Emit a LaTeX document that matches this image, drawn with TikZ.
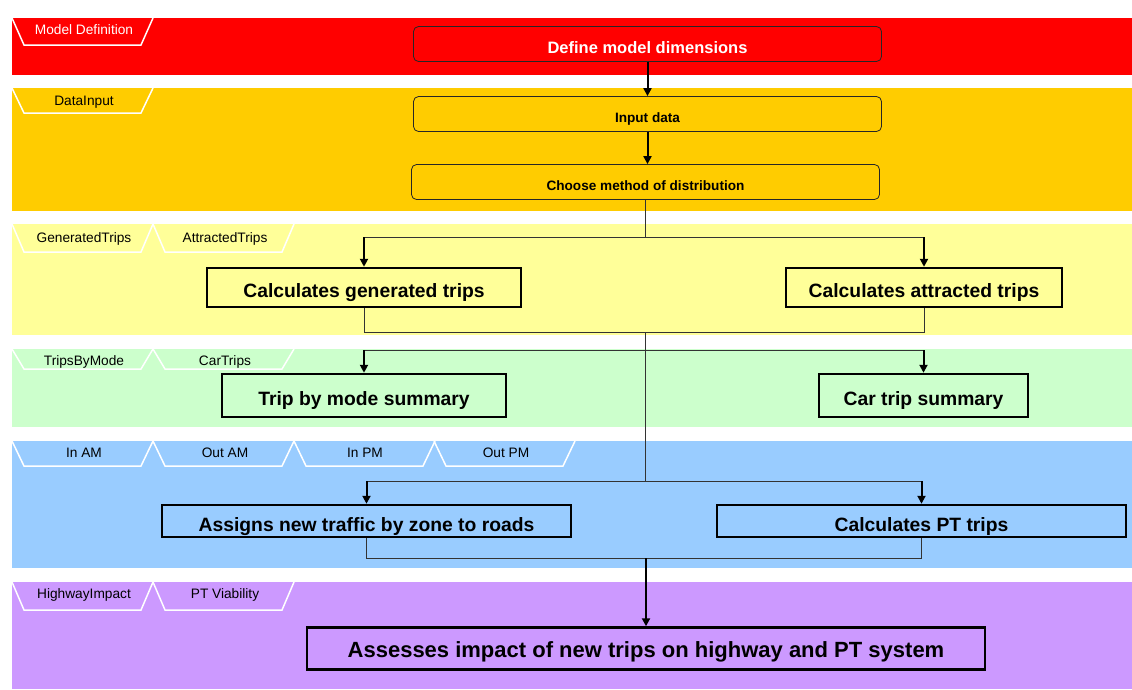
\documentclass[tikz,border=0pt]{standalone}
\usepackage{fontspec}
\setmainfont{Liberation Sans}
\usetikzlibrary{arrows.meta}
\definecolor{cRed}{HTML}{FF0000}
\definecolor{cOrange}{HTML}{FFCC00}
\definecolor{cYellow}{HTML}{FFFF99}
\definecolor{cGreen}{HTML}{CCFFCC}
\definecolor{cBlue}{HTML}{99CCFF}
\definecolor{cPurple}{HTML}{CC99FF}
\newcommand\tabtrap[3]{\draw[tabshape] (#1,#2) -- ++(12,#3) -- ++(117,0) -- ++(12,-#3);}
\begin{document}
\begin{tikzpicture}[x=1pt,y=-1pt,
  band/.style={fill=#1, draw=none},
  tabshape/.style={draw=white, line width=1.5pt, line join=miter},
  tablabel/.style={font=\fontsize{13.7}{16}\selectfont, text=black, inner sep=0pt, anchor=base},
  roundbox/.style={draw=black!85, line width=0.8pt, rounded corners=5pt, fill=#1, minimum width=468pt, minimum height=35pt, inner sep=0pt, text height=16pt, text depth=0pt, font=\fontsize{13.6}{16}\bfseries\selectfont},
  bigbox/.style={draw=black, line width=2.5pt, fill=#1, inner sep=0pt, text height=20.5pt, text depth=0pt, font=\fontsize{19.3}{23}\bfseries\selectfont},
  thinline/.style={draw=black!80, line width=1pt},
  stub/.style={draw=black, line width=2pt, -{Triangle[length=8pt,width=8pt]}},
]
\useasboundingbox (0,0) rectangle (1132,689);
% bands
\fill[band=cRed] (12,18) rectangle (1132,75);
\fill[band=cOrange] (12,88) rectangle (1132,211);
\fill[band=cYellow] (12,224) rectangle (1132,335);
\fill[band=cGreen] (12,349) rectangle (1132,427);
\fill[band=cBlue] (12,441) rectangle (1132,568);
\fill[band=cPurple] (12,582) rectangle (1132,689);
% tabs
\tabtrap{12}{18}{27}
\node[tablabel, text=white] (tMD) at (84,34.5) {Model Definition};
\tabtrap{12}{88}{25}
\node[tablabel] (tDI) at (84,105.5) {DataInput};
\tabtrap{12}{224}{28}
\tabtrap{153}{224}{28}
\node[tablabel] (tGT) at (84,242) {GeneratedTrips};
\node[tablabel] (tAT) at (225,242) {AttractedTrips};
\tabtrap{12}{349}{20}
\tabtrap{153}{349}{20}
\node[tablabel] (tTM) at (84,365.5) {TripsByMode};
\node[tablabel] (tCT) at (225,365.5) {CarTrips};
\tabtrap{12}{441}{25}
\tabtrap{153}{441}{25}
\tabtrap{294}{441}{25}
\tabtrap{434}{441}{25}
\node[tablabel] (tIA) at (84,457) {In AM};
\node[tablabel] (tOA) at (225,457) {Out AM};
\node[tablabel] (tIP) at (365,457) {In PM};
\node[tablabel] (tOP) at (506,457) {Out PM};
\tabtrap{12}{582}{28}
\tabtrap{153}{582}{28}
\node[tablabel] (tHI) at (84,598) {HighwayImpact};
\node[tablabel] (tPV) at (225,598) {PT Viability};
% nodes
\node[roundbox=cRed, text=white, text height=18.5pt, font=\fontsize{16.5}{19}\bfseries\selectfont] (define) at (647.5,44) {Define model dimensions};
\node[roundbox=cOrange] (input) at (647.5,114) {Input data};
\node[roundbox=cOrange] (choose) at (645.5,182) {Choose method of distribution};
\node[bigbox=cYellow, minimum width=314pt, minimum height=39pt] (gen) at (364,287.5) {Calculates generated trips};
\node[bigbox=cYellow, minimum width=276pt, minimum height=39pt] (attr) at (924,287.5) {Calculates attracted trips};
\node[bigbox=cGreen, minimum width=284pt, minimum height=43pt] (tmode) at (364,395.5) {Trip by mode summary};
\node[bigbox=cGreen, minimum width=209pt, minimum height=43pt] (car) at (923.5,395.5) {Car trip summary};
\node[bigbox=cBlue, minimum width=409pt, minimum height=32pt] (assign) at (366.5,521) {Assigns new traffic by zone to roads};
\node[bigbox=cBlue, minimum width=409pt, minimum height=32pt] (pt) at (921.5,521) {Calculates PT trips};
\node[bigbox=cPurple, minimum width=678pt, minimum height=42pt, text height=18pt, font=\fontsize{22}{26}\bfseries\selectfont] (assess) at (646,648.5) {Assesses impact of new trips on highway and PT system};
% junction coordinates
\coordinate (jy) at (0,237);
\coordinate (my) at (0,332);
\coordinate (jg) at (0,350);
\coordinate (jb) at (0,481);
\coordinate (mb) at (0,558);
% connectors
\draw[stub] (define) -- (input);
\draw[stub] (input.south) -- (input.south |- choose.north);
\draw[thinline] (choose.south) -- (choose.south |- jy);
\draw[thinline] (gen.north |- jy) -- (attr.north |- jy);
\draw[stub] (gen.north |- jy) -- (gen.north);
\draw[stub] (attr.north |- jy) -- (attr.north);
\draw[thinline] (gen.south) -- (gen.south |- my) -- (attr.south |- my) -- (attr.south);
\draw[thinline] (choose.south |- my) -- (choose.south |- jb);
\draw[thinline] (tmode.north |- jg) -- (car.north |- jg);
\draw[stub] (tmode.north |- jg) -- (tmode.north);
\draw[stub] (car.north |- jg) -- (car.north);
\draw[thinline] (assign.north |- jb) -- (pt.north |- jb);
\draw[stub] (assign.north |- jb) -- (assign.north);
\draw[stub] (pt.north |- jb) -- (pt.north);
\draw[thinline] (assign.south) -- (assign.south |- mb) -- (pt.south |- mb) -- (pt.south);
\draw[stub] (assess.north |- mb) -- (assess.north);
\end{tikzpicture}
\end{document}
